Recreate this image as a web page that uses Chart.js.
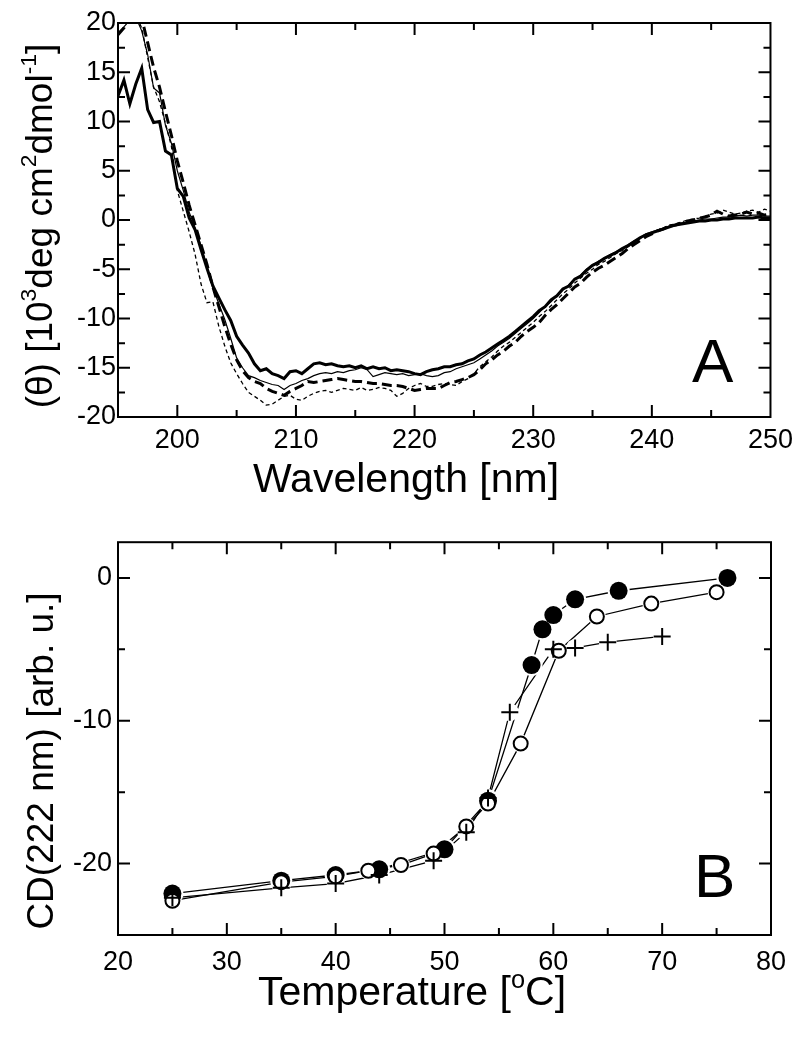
<!DOCTYPE html>
<html>
<head>
<meta charset="utf-8">
<script src="https://cdn.jsdelivr.net/npm/chart.js@4.4.1/dist/chart.umd.min.js"></script>
<style>
body{margin:0;background:#fff}
#wrap{position:relative;width:800px;height:1041px;background:#fff}
canvas{position:absolute;left:0}
#chartA{top:0}
#chartB{top:520px}
</style>
</head>
<body>
<div id="wrap">
<canvas id="chartA" width="800" height="520"></canvas>
<canvas id="chartB" width="800" height="521"></canvas>
</div>
<script>

// panel A: CD spectra, wavelength in nm
const wavelength=[
195,195.5,196,196.5,197,197.5,198,198.5,199,199.5,
200,200.5,201,201.5,202,202.5,203,203.5,204,204.5,
205,205.5,206,206.5,207,207.5,208,208.5,209,209.5,
210,210.5,211,211.5,212,212.5,213,213.5,214,214.5,
215,215.5,216,216.5,217,217.5,218,218.5,219,219.5,
220,220.5,221,221.5,222,222.5,223,223.5,224,224.5,
225,225.5,226,226.5,227,227.5,228,228.5,229,229.5,
230,230.5,231,231.5,232,232.5,233,233.5,234,234.5,
235,235.5,236,236.5,237,237.5,238,238.5,239,239.5,
240,240.5,241,241.5,242,242.5,243,243.5,244,244.5,
245,245.5,246,246.5,247,247.5,248,248.5,249,249.5,
250]

const thickSolid=[
12.6,14.2,11.8,13.8,15.4,11.2,9.9,10.0,7.0,6.6,
3.2,2.4,0.2,-1.0,-3.0,-4.9,-6.7,-7.9,-9.1,-10.2,
-11.8,-12.7,-13.5,-14.6,-15.3,-15.1,-15.6,-15.8,-16.1,-15.4,
-15.3,-15.6,-15.1,-14.6,-14.5,-14.7,-14.6,-14.8,-14.9,-14.8,
-15.0,-14.8,-15.1,-14.9,-15.1,-15.0,-15.3,-15.2,-15.3,-15.4,
-15.6,-15.7,-15.4,-15.2,-15.1,-14.9,-14.9,-14.7,-14.6,-14.3,
-14.1,-13.7,-13.4,-13.0,-12.6,-12.2,-11.8,-11.3,-10.8,-10.3,
-9.8,-9.2,-8.8,-8.1,-7.7,-7.0,-6.7,-6.0,-5.7,-5.1,
-4.6,-4.3,-3.9,-3.6,-3.3,-2.9,-2.6,-2.2,-1.8,-1.5,
-1.3,-1.1,-0.9,-0.7,-0.5,-0.4,-0.3,-0.2,-0.1,-0.1,
0.0,0.0,0.1,0.1,0.2,0.2,0.2,0.2,0.3,0.2,
0.2]

const thinSolid=[
19.0,19.6,20.3,20.6,19.2,16.8,13.4,12.9,9.6,7.8,
5.0,3.0,0.8,-0.8,-2.6,-4.8,-6.9,-8.5,-10.1,-12.0,
-14.0,-15.0,-15.8,-16.0,-16.3,-16.5,-16.7,-16.8,-17.2,-16.8,
-16.6,-16.3,-16.1,-15.8,-15.6,-15.5,-15.6,-15.4,-15.5,-15.3,
-15.2,-15.0,-15.2,-15.9,-15.7,-15.5,-15.6,-15.7,-15.6,-15.8,
-15.7,-15.6,-15.8,-15.9,-15.8,-15.5,-15.4,-15.1,-14.9,-14.7,
-14.5,-14.1,-13.7,-13.3,-12.8,-12.4,-12.0,-11.5,-11.0,-10.5,
-10.0,-9.4,-8.8,-8.3,-7.7,-7.1,-6.6,-6.0,-5.6,-5.0,
-4.6,-4.2,-3.9,-3.5,-3.2,-2.9,-2.5,-2.1,-1.8,-1.4,
-1.2,-1.0,-0.8,-0.6,-0.5,-0.3,-0.2,-0.1,0.0,0.1,
0.1,0.2,0.3,0.3,0.4,0.5,0.4,0.5,0.5,0.4,
0.4]

const thickDash=[
18.8,19.5,20.5,21.0,20.5,18.0,15.5,13.5,11.0,8.6,
6.0,3.8,1.5,-0.5,-2.5,-4.5,-6.8,-8.8,-10.8,-12.6,
-14.2,-15.3,-16.0,-16.4,-16.6,-17.1,-17.4,-17.6,-17.8,-17.4,
-17.1,-16.8,-16.4,-16.5,-16.4,-16.3,-16.2,-16.1,-16.2,-16.3,
-16.4,-16.4,-16.5,-16.6,-16.6,-16.7,-16.8,-16.8,-16.9,-17.1,
-17.3,-17.2,-17.1,-17.1,-17.1,-16.8,-16.5,-16.4,-16.2,-16.0,
-15.7,-15.2,-14.6,-14.2,-13.7,-13.3,-12.8,-12.4,-11.8,-11.3,
-10.9,-10.4,-9.7,-9.1,-8.6,-8.0,-7.4,-6.8,-6.4,-5.8,
-5.3,-4.9,-4.6,-4.2,-3.8,-3.4,-2.9,-2.5,-2.1,-1.7,
-1.4,-1.1,-0.9,-0.6,-0.5,-0.3,-0.1,0.0,0.2,0.3,
0.5,0.9,0.6,0.4,0.5,0.6,0.8,0.6,0.7,0.5,
0.6]

const thinDot=[
19.8,21.0,21.0,20.8,19.5,16.5,13.5,12.0,9.8,7.5,
3.0,0.9,-1.2,-3.5,-6.5,-8.4,-8.3,-10.8,-12.8,-14.5,
-15.6,-16.6,-17.5,-17.9,-18.3,-18.8,-18.7,-18.3,-17.9,-17.8,
-18.2,-18.3,-17.9,-17.6,-17.4,-17.3,-17.5,-17.3,-17.1,-17.2,
-17.3,-17.0,-17.3,-17.2,-17.0,-17.1,-17.3,-17.9,-17.6,-17.1,
-16.8,-16.6,-16.9,-16.9,-16.7,-16.6,-16.7,-16.8,-16.4,-16.1,
-15.6,-14.9,-14.4,-13.9,-13.3,-12.8,-12.4,-11.9,-11.4,-10.9,
-10.4,-9.8,-9.3,-8.7,-8.1,-7.5,-7.0,-6.4,-5.9,-5.4,
-5.0,-4.5,-4.2,-3.8,-3.4,-3.1,-2.7,-2.3,-1.9,-1.6,
-1.3,-1.0,-0.8,-0.5,-0.4,-0.2,0.0,0.1,0.2,0.4,
0.6,0.7,1.0,0.8,0.6,0.7,0.9,1.0,0.8,1.1,
0.9]

// panel B: CD at 222 nm vs temperature
const filledT=[25,35,40,44,50,54,58,59,60,62,66,76]
const filledV=[-22.1,-21.2,-20.8,-20.4,-19.0,-15.6,-6.1,-3.6,-2.6,-1.5,-0.9,0.0]
const openT=[25,35,40,43,46,49,52,54,57,60.5,64,69,75]
const openV=[-22.6,-21.3,-20.9,-20.5,-20.1,-19.3,-17.4,-15.8,-11.6,-5.1,-2.7,-1.8,-1.0]
const crossT=[25,35,40,44,49,52,54,56,60,62,65,70]
const crossV=[-22.4,-21.7,-21.4,-20.8,-19.8,-17.8,-15.4,-9.4,-5.0,-4.9,-4.5,-4.1]

// axis ranges and tick steps
const axisA={xMin:195,xMax:250,xStep:5,xLabelEvery:10,yMin:-20,yMax:20,yStep:2.5,yLabelEvery:5}
const axisB={xMin:20,xMax:80,xStep:5,xLabelEvery:10,yMin:-25,yMax:2.5,yStep:5,yLabelEvery:10}

const FONT='"Liberation Sans", Arial, Helvetica, sans-serif'

function pts(xs,ys){
return xs.map((x,i)=>({x:x,y:ys[i]}))
}

function isMultiple(v,m){
return Math.abs(v/m-Math.round(v/m))<1e-6
}

// inward ticks on all four sides + frame
const frameTicks={
id:"frameTicks",
afterDatasetsDraw(chart,args,opts){
const ctx=chart.ctx
const a=chart.chartArea
const x=chart.scales.x
const y=chart.scales.y
ctx.save()
ctx.strokeStyle="#000"
ctx.lineWidth=2
ctx.lineCap="butt"
ctx.beginPath()
x.ticks.forEach(t=>{
const p=x.getPixelForValue(t.value)
if(p<=a.left+1||p>=a.right-1)return
const len=isMultiple(t.value,opts.xMajor)?12:7
ctx.moveTo(p,a.bottom);ctx.lineTo(p,a.bottom-len)
ctx.moveTo(p,a.top);ctx.lineTo(p,a.top+len)
})
y.ticks.forEach(t=>{
const p=y.getPixelForValue(t.value)
if(p<=a.top+1||p>=a.bottom-1)return
const len=isMultiple(t.value,opts.yMajor)?12:7
ctx.moveTo(a.left,p);ctx.lineTo(a.left+len,p)
ctx.moveTo(a.right,p);ctx.lineTo(a.right-len,p)
})
ctx.stroke()
ctx.strokeRect(a.left,a.top,a.right-a.left,a.bottom-a.top)
ctx.restore()
}
}

// text made of normal and superscript pieces, centred on (0,0) baseline
function drawParts(ctx,parts,size){
let w=0
parts.forEach(p=>{
ctx.font=(p.sup?size*0.62:size)+"px "+FONT
p.w=ctx.measureText(p.t).width
w+=p.w
})
let cx=-w/2
parts.forEach(p=>{
ctx.font=(p.sup?size*0.62:size)+"px "+FONT
ctx.fillText(p.t,cx,p.sup?-size*0.42:0)
cx+=p.w
})
}

const titles={
id:"titles",
afterDraw(chart,args,opts){
const ctx=chart.ctx
ctx.save()
ctx.fillStyle="#000"
ctx.textAlign="left"
ctx.textBaseline="alphabetic"
ctx.save()
ctx.translate(opts.xTitle.x,opts.xTitle.y)
drawParts(ctx,opts.xTitle.parts,opts.xTitle.size)
ctx.restore()
ctx.save()
ctx.translate(opts.yTitle.x,opts.yTitle.y)
ctx.rotate(-Math.PI/2)
drawParts(ctx,opts.yTitle.parts,opts.yTitle.size)
ctx.restore()
ctx.font=opts.panel.size+"px "+FONT
ctx.fillText(opts.panel.t,opts.panel.x,opts.panel.y)
ctx.restore()
}
}

function scaleOpts(min,max,step,every,pad,fit,pos){
return {
type:"linear",
position:pos,
min:min,
max:max,
grid:{display:false,drawTicks:false},
border:{display:false},
ticks:{
stepSize:step,
padding:pad,
color:"#000",
font:{family:FONT,size:27},
maxRotation:0,
autoSkip:false,
callback:function(v){return isMultiple(v,every)?String(v):""}
},
afterFit:fit
}
}

function makeA(){

const line=(data,w,dash)=>({
data:data,
borderColor:"#000",
borderWidth:w,
borderDash:dash,
pointRadius:0,
fill:false,
tension:0,
clip:0
})

new Chart(document.getElementById("chartA"),{
type:"line",
data:{
datasets:[
line(pts(wavelength,thinDot),1.3,[4,3]),
line(pts(wavelength,thickDash),3,[10,5]),
line(pts(wavelength,thinSolid),1.2,[]),
line(pts(wavelength,thickSolid),3,[])
]
},
options:{
responsive:false,
animation:false,
layout:{padding:{left:0,right:29,top:23,bottom:0}},
plugins:{
legend:{display:false},
tooltip:{enabled:false},
frameTicks:{xMajor:10,yMajor:5},
titles:{
xTitle:{x:406,y:492,size:41,parts:[{t:"Wavelength [nm]"}]},
yTitle:{x:52,y:226,size:37,parts:[
{t:"(θ) [10"},{t:"3",sup:true},{t:"deg cm"},{t:"2",sup:true},
{t:"dmol"},{t:"-1",sup:true},{t:"]"}
]},
panel:{t:"A",x:692,y:382,size:62}
}
},
scales:{
x:scaleOpts(axisA.xMin,axisA.xMax,axisA.xStep,axisA.xLabelEvery,7,s=>{s.height=103},"bottom"),
y:scaleOpts(axisA.yMin,axisA.yMax,axisA.yStep,axisA.yLabelEvery,2,s=>{s.width=118},"left")
}
},
plugins:[frameTicks,titles]
})

}

function makeB(){

const conn=data=>({
data:data,
showLine:true,
borderColor:"#000",
borderWidth:1.3,
pointRadius:0,
tension:0
})

const gap=(data,r)=>({
data:data,
showLine:false,
pointRadius:r,
pointBorderWidth:0,
pointBackgroundColor:"#fff",
pointBorderColor:"#fff"
})

const f=pts(filledT,filledV)
const o=pts(openT,openV)
const c=pts(crossT,crossV)

new Chart(document.getElementById("chartB"),{
type:"scatter",
data:{
datasets:[
{data:c,pointStyle:"cross",pointRadius:8.5,pointBorderWidth:2,pointBorderColor:"#000"},
{data:o,pointStyle:"circle",pointRadius:7,pointBorderWidth:2,pointBorderColor:"#000",pointBackgroundColor:"#fff"},
{data:f,pointStyle:"circle",pointRadius:9,pointBorderWidth:0,pointBorderColor:"#000",pointBackgroundColor:"#000"},
gap(c,9),
gap(o,9),
gap(f,11),
conn(c),
conn(o),
conn(f)
]
},
options:{
responsive:false,
animation:false,
layout:{padding:{left:0,right:29,top:21,bottom:0}},
plugins:{
legend:{display:false},
tooltip:{enabled:false},
frameTicks:{xMajor:10,yMajor:10},
titles:{
xTitle:{x:412,y:485,size:41,parts:[{t:"Temperature ["},{t:"o",sup:true},{t:"C]"}]},
yTitle:{x:53,y:241,size:37,parts:[{t:"CD(222 nm) [arb. u.]"}]},
panel:{t:"B",x:694,y:377,size:62}
}
},
scales:{
x:scaleOpts(axisB.xMin,axisB.xMax,axisB.xStep,axisB.xLabelEvery,11,s=>{s.height=106},"bottom"),
y:scaleOpts(axisB.yMin,axisB.yMax,axisB.yStep,axisB.yLabelEvery,6,s=>{s.width=118},"left")
}
},
plugins:[frameTicks,titles]
})

}

makeA()
makeB()

</script>
</body>
</html>
